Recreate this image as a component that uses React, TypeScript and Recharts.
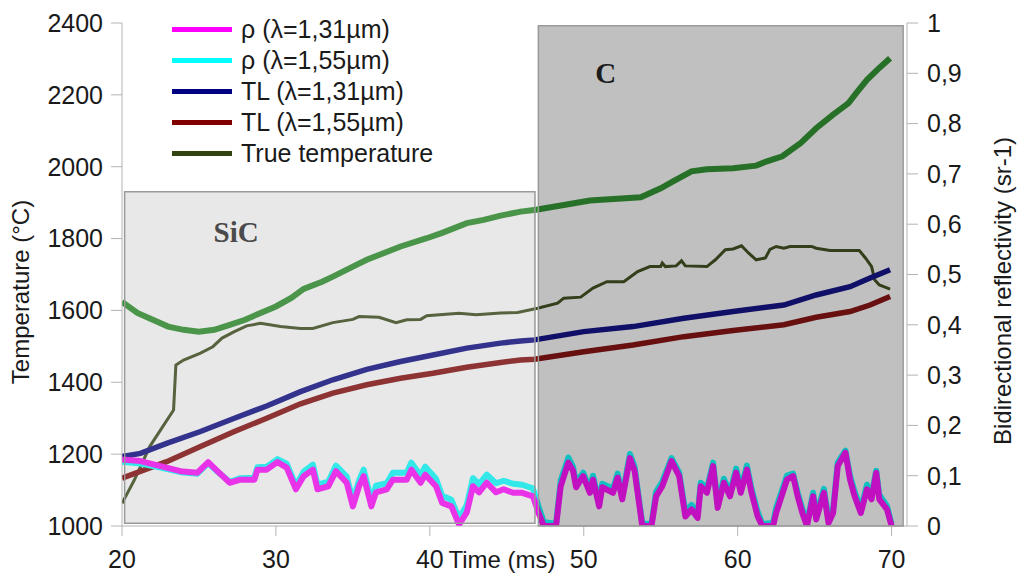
import React from 'react'
import {
  ComposedChart,
  Line,
  XAxis,
  YAxis,
  Legend,
  ReferenceArea,
} from 'recharts'

// [time (ms), value]
const emissivityPts: [number, number][] = [
  [20, 1624], [21, 1593], [22, 1574], [23, 1555], [24, 1546], [25, 1541], [26, 1546], [27, 1560],
  [28, 1574], [29, 1593], [30, 1611], [31, 1635], [31.8, 1660], [33, 1680], [33.7, 1694], [35, 1722],
  [35.9, 1741], [38.1, 1778], [39.8, 1801], [40.8, 1816], [42.4, 1843], [43.5, 1852], [44.6, 1864],
  [45.9, 1875], [46.9, 1880], [50.4, 1906], [53.7, 1915], [55, 1940], [55.8, 1959], [57, 1987],
  [58, 1993], [59.7, 1996], [61.2, 2003], [61.9, 2015], [62.9, 2029], [64.1, 2066], [65.1, 2107],
  [66.2, 2145], [67.2, 2177], [67.7, 2205], [68.4, 2242], [69.2, 2275], [69.9, 2302],
]

const tl131Pts: [number, number][] = [
  [20, 1193], [21.2, 1202], [22.9, 1230], [25.1, 1263], [27.3, 1300], [29.4, 1334], [31.6, 1374],
  [33.7, 1407], [35.9, 1436], [38.1, 1458], [40.2, 1476], [42.4, 1495], [44.6, 1509], [45.9, 1515],
  [46.8, 1518], [50, 1541], [53.2, 1555], [56.5, 1578], [59.7, 1597], [63, 1615], [65.1, 1643],
  [67.3, 1666], [68.6, 1690], [69.9, 1713],
]

const tl155Pts: [number, number][] = [
  [20, 1133], [22.9, 1179], [25.1, 1221], [27.3, 1263], [29.4, 1300], [31.6, 1340], [33.7, 1370],
  [35.9, 1393], [38.1, 1411], [40.2, 1425], [42.4, 1442], [44.6, 1455], [45.9, 1462], [46.8, 1464],
  [50, 1485], [53.2, 1504], [56.5, 1527], [59.7, 1544], [63, 1560], [65.1, 1581], [67.3, 1597],
  [68.6, 1615], [69.9, 1639],
]

const truePts: [number, number][] = [
  [20, 1063], [20.8, 1128], [21.8, 1221], [23.35, 1323], [23.5, 1448], [24, 1462], [25.1, 1481],
  [25.9, 1499], [26.5, 1523], [27.3, 1541], [28.1, 1557], [29, 1564], [30.3, 1555], [31.6, 1550],
  [32.4, 1550], [33.7, 1566], [35, 1575], [35.4, 1583], [36.7, 1581], [37.8, 1566], [38.5, 1574],
  [39.4, 1575], [39.8, 1585], [41.9, 1592], [43, 1588], [44.6, 1593], [45.7, 1594], [47, 1606],
  [48.3, 1620], [48.7, 1634], [49.8, 1637], [50.6, 1662], [51.5, 1680], [52.6, 1680], [53.5, 1708],
  [54.3, 1722], [55, 1722], [55.1, 1732], [55.3, 1722], [56, 1724], [56.35, 1738], [56.6, 1724],
  [58, 1722], [58.55, 1741], [59.2, 1769], [59.7, 1771], [60.25, 1780], [60.7, 1760], [61.2, 1741],
  [61.8, 1746], [62.1, 1770], [62.5, 1778], [63, 1773], [63.4, 1778], [64.8, 1778], [65.1, 1773],
  [66, 1767], [67.9, 1767], [68.3, 1746], [68.7, 1722], [68.9, 1685], [69.2, 1671], [69.45, 1667],
  [69.9, 1659],
]

const rho131Pts: [number, number][] = [
  [20, 0.132], [21.2, 0.129], [22.5, 0.119], [23.8, 0.109], [24.9, 0.106], [25.6, 0.127], [26.2, 0.109],
  [27, 0.086], [27.7, 0.092], [28.6, 0.092], [28.8, 0.112], [29.4, 0.112], [30.1, 0.127], [30.7, 0.116],
  [31.3, 0.073], [31.8, 0.099], [32.4, 0.112], [32.7, 0.073], [33.4, 0.079], [33.9, 0.109], [34.6, 0.086],
  [35, 0.039], [35.4, 0.079], [35.7, 0.099], [36.2, 0.039], [36.5, 0.067], [37.2, 0.073], [37.6, 0.092],
  [38.5, 0.092], [38.8, 0.112], [39.4, 0.086], [39.7, 0.102], [40.4, 0.079], [40.8, 0.046], [41.4, 0.039],
  [41.9, 0.003], [42.4, 0.027], [42.8, 0.079], [43.2, 0.067], [43.7, 0.086], [44.3, 0.067], [44.8, 0.073],
  [45.4, 0.066], [46, 0.066], [46.7, 0.059], [47.05, 0.027], [47.4, 0], [48.2, 0], [48.5, 0.079],
  [49, 0.126], [49.3, 0.11], [49.5, 0.077], [49.96, 0.099], [50.4, 0.066], [50.6, 0.092], [51, 0.039],
  [51.2, 0.077], [51.9, 0.066], [52.2, 0.096], [52.5, 0.053], [53, 0.135], [53.3, 0.11], [53.8, 0],
  [54.4, 0], [54.7, 0.059], [55.1, 0.079], [55.7, 0.129], [56.2, 0.099], [56.6, 0.019], [57, 0.033],
  [57.4, 0.016], [57.6, 0.079], [58, 0.066], [58.4, 0.119], [58.7, 0.036], [59.1, 0.086], [59.5, 0.059],
  [59.9, 0.106], [60.2, 0.066], [60.6, 0.112], [60.9, 0.066], [61.3, 0.019], [61.6, 0], [62.3, 0],
  [62.5, 0.026], [63.2, 0.092], [63.6, 0.099], [63.9, 0.059], [64.2, 0.026], [64.5, 0], [64.9, 0.059],
  [65.1, 0.013], [65.6, 0.066], [65.9, 0.006], [66.2, 0.026], [66.5, 0.119], [67, 0.146], [67.3, 0.092],
  [67.6, 0.059], [68, 0.026], [68.4, 0.073], [68.7, 0.053], [69, 0.106], [69.2, 0.053], [69.7, 0.033],
  [70, 0],
]

const rho155Pts: [number, number][] = [
  [20, 0.128], [21.2, 0.124], [22.5, 0.116], [23.8, 0.107], [24.9, 0.104], [25.6, 0.125], [26.2, 0.108],
  [27, 0.088], [27.7, 0.095], [28.6, 0.096], [28.8, 0.117], [29.4, 0.118], [30.1, 0.133], [30.7, 0.124],
  [31.3, 0.08], [31.8, 0.108], [32.4, 0.122], [32.7, 0.082], [33.4, 0.088], [33.9, 0.12], [34.6, 0.098],
  [35, 0.05], [35.4, 0.09], [35.7, 0.112], [36.2, 0.05], [36.5, 0.08], [37.2, 0.085], [37.6, 0.106],
  [38.5, 0.106], [38.8, 0.126], [39.4, 0.1], [39.7, 0.118], [40.4, 0.094], [40.8, 0.06], [41.4, 0.052],
  [41.9, 0.015], [42.4, 0.042], [42.8, 0.095], [43.2, 0.083], [43.7, 0.102], [44.3, 0.085], [44.8, 0.09],
  [45.4, 0.084], [46, 0.082], [46.7, 0.075], [47.05, 0.04], [47.4, 0.008], [48.2, 0.004], [48.5, 0.09],
  [49, 0.136], [49.3, 0.118], [49.5, 0.086], [49.96, 0.106], [50.4, 0.074], [50.6, 0.1], [51, 0.046],
  [51.2, 0.084], [51.9, 0.074], [52.2, 0.104], [52.5, 0.06], [53, 0.143], [53.3, 0.118], [53.8, 0.006],
  [54.4, 0.004], [54.7, 0.068], [55.1, 0.088], [55.7, 0.135], [56.2, 0.106], [56.6, 0.028], [57, 0.042],
  [57.4, 0.024], [57.6, 0.086], [58, 0.074], [58.4, 0.126], [58.7, 0.044], [59.1, 0.094], [59.5, 0.067],
  [59.9, 0.114], [60.2, 0.074], [60.6, 0.12], [60.9, 0.074], [61.3, 0.028], [61.6, 0.004], [62.3, 0.006],
  [62.5, 0.036], [63.2, 0.1], [63.6, 0.104], [63.9, 0.066], [64.2, 0.034], [64.5, 0.006], [64.9, 0.066],
  [65.1, 0.022], [65.6, 0.074], [65.9, 0.014], [66.2, 0.034], [66.5, 0.126], [67, 0.15], [67.3, 0.1],
  [67.6, 0.068], [68, 0.034], [68.4, 0.082], [68.7, 0.062], [69, 0.11], [69.2, 0.062], [69.7, 0.04],
  [70, 0.004],
]

const timeTicks = [20, 30, 40, 50, 60, 70]
const tempTicks = [1000, 1200, 1400, 1600, 1800, 2000, 2200, 2400]
const reflTicks = [0, 0.1, 0.2, 0.3, 0.4, 0.5, 0.6, 0.7, 0.8, 0.9, 1]

// material zones (time ms, temperature)
const sicZone = { x1: 20.17, x2: 46.83, y1: 1007.5, y2: 1930 }
const cZone = { x1: 47.05, x2: 70.75, y1: 1000, y2: 2392 }

const legendItems = [
  { name: 'ρ (λ=1,31µm)', color: '#ff00ff' },
  { name: 'ρ (λ=1,55µm)', color: '#00ffff' },
  { name: 'TL (λ=1,31µm)', color: '#000080' },
  { name: 'TL (λ=1,55µm)', color: '#800000' },
  { name: 'True temperature', color: '#334410' },
]

const FONT = '"Liberation Sans", Arial, sans-serif'
const SERIF = '"Liberation Serif", "Times New Roman", serif'
const AXIS = '#b3b3b3'
const TEXT = '#1a1a1a'

const rows = (pts: [number, number][]) => pts.map(([t, v]) => ({ t, v }))

const fmtRefl = (v: number) => (v === 0 || v === 1 ? String(v) : v.toFixed(1).replace('.', ','))

const renderLegend = () => (
  <div style={{ fontFamily: FONT, fontSize: 25, color: TEXT }}>
    {legendItems.map((it) => (
      <div key={it.name} style={{ display: 'flex', alignItems: 'center', height: 31 }}>
        <div style={{ width: 60, height: 5, background: it.color, marginRight: 9 }} />
        <span style={{ lineHeight: '31px', whiteSpace: 'nowrap' }}>{it.name}</span>
      </div>
    ))}
  </div>
)

const zoneLabel = (text: string, dx: number, dy: number, color: string) => (props: any) => {
  const vb = props.viewBox || {}
  return (
    <text x={vb.x + dx} y={vb.y + dy} fill={color} fontFamily={SERIF} fontWeight="bold" fontSize={29}>
      {text}
    </text>
  )
}

export default function App() {
  return (
    <div style={{ position: 'absolute', left: 0, top: 0, width: 1018, height: 574, background: '#fff', fontFamily: FONT }}>
      <ComposedChart
        width={1018}
        height={574}
        margin={{ top: 23, right: 0, bottom: 0, left: 0 }}
        style={{ fontFamily: FONT }}
      >
        <XAxis
          dataKey="t"
          type="number"
          domain={[20, 71]}
          ticks={timeTicks}
          allowDataOverflow
          height={48}
          stroke={AXIS}
          tickSize={10}
          tickMargin={14}
          tick={{ fill: TEXT, fontSize: 25, fontFamily: FONT }}
          label={{
            content: () => (
              <text x={502} y={568} textAnchor="middle" fill={TEXT} fontSize={24} fontFamily={FONT}>
                Time (ms)
              </text>
            ),
          }}
        />
        <YAxis
          yAxisId="left"
          domain={[1000, 2400]}
          ticks={tempTicks}
          allowDataOverflow
          width={122}
          stroke={AXIS}
          tickSize={11}
          tickMargin={8}
          tick={{ fill: TEXT, fontSize: 25, fontFamily: FONT }}
          label={{
            content: () => (
              <text x={29} y={292} transform="rotate(-90 29 292)" textAnchor="middle" fill={TEXT} fontSize={24} fontFamily={FONT}>
                Temperature (°C)
              </text>
            ),
          }}
        />
        <YAxis
          yAxisId="right"
          orientation="right"
          domain={[0, 1]}
          ticks={reflTicks}
          allowDataOverflow
          width={111}
          stroke={AXIS}
          tickSize={11}
          tickMargin={9}
          tickFormatter={fmtRefl}
          tick={{ fill: TEXT, fontSize: 25, fontFamily: FONT }}
          label={{
            content: () => (
              <text x={1011} y={291} transform="rotate(-90 1011 291)" textAnchor="middle" fill={TEXT} fontSize={24} fontFamily={FONT}>
                Bidirectional reflectivity (sr-1)
              </text>
            ),
          }}
        />
        <Legend
          layout="horizontal"
          verticalAlign="middle"
          align="center"
          content={renderLegend}
          wrapperStyle={{ left: 172, top: 14, width: 320 }}
        />

        <Line data={rows(emissivityPts)} dataKey="v" yAxisId="left" type="linear" dot={false} stroke="#228b22" strokeWidth={6} isAnimationActive={false} legendType="none" />
        <Line data={rows(truePts)} dataKey="v" yAxisId="left" type="linear" dot={false} stroke="#334410" strokeWidth={3} isAnimationActive={false} />
        <Line data={rows(tl131Pts)} dataKey="v" yAxisId="left" type="linear" dot={false} stroke="#000080" strokeWidth={5.5} isAnimationActive={false} />
        <Line data={rows(tl155Pts)} dataKey="v" yAxisId="left" type="linear" dot={false} stroke="#800000" strokeWidth={5.5} isAnimationActive={false} />
        <Line data={rows(rho155Pts)} dataKey="v" yAxisId="right" type="linear" dot={false} stroke="#00ffff" strokeWidth={6} strokeLinejoin="round" isAnimationActive={false} />
        <Line data={rows(rho131Pts)} dataKey="v" yAxisId="right" type="linear" dot={false} stroke="#ff00ff" strokeWidth={6} strokeLinejoin="round" isAnimationActive={false} />

        <ReferenceArea
          yAxisId="left"
          {...sicZone}
          fill="#b0b0b0"
          fillOpacity={0.29}
          stroke="#9a9a9a"
          strokeWidth={1.5}
          zIndex={1000}
          label={zoneLabel('SiC', 89, 50, '#4a4a4a')}
        />
        <ReferenceArea
          yAxisId="left"
          {...cZone}
          fill="#343434"
          fillOpacity={0.31}
          stroke="#9a9a9a"
          strokeWidth={1.5}
          zIndex={1000}
          label={zoneLabel('C', 57, 57, '#1c1c1c')}
        />
      </ComposedChart>
    </div>
  )
}
